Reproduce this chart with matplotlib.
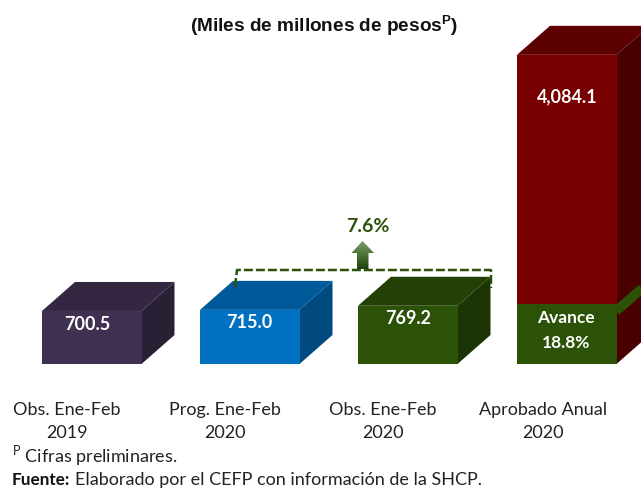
import matplotlib
matplotlib.use("Agg")
import numpy as np
import matplotlib.pyplot as plt
from matplotlib.colors import LinearSegmentedColormap
from matplotlib.patches import Polygon

plt.rcParams['font.family'] = ['Lato', 'DejaVu Sans']
plt.rcParams['mathtext.fontset'] = 'custom'
plt.rcParams['mathtext.rm'] = 'Lato'
plt.rcParams['mathtext.bf'] = 'Liberation Sans:bold'

# Data
categories = ["Obs. Ene-Feb\n2019", "Prog. Ene-Feb\n2020", "Obs. Ene-Feb\n2020", "Aprobado Anual\n2020"]
values = [700.5, 715.0, 769.2, 4084.1]
value_labels = ["700.5", "715.0", "769.2", "4,084.1"]
avance_pct = 18.8
growth_pct = 7.6

# Colours per bar: front, top, side
front_colors = ["#403152", "#0070c0", "#2c5208", "#780000"]
top_colors = ["#332742", "#005a9a", "#234106", "#5c0000"]
side_colors = ["#2a2036", "#004a80", "#1b3505", "#480000"]

W, H = 641, 489
BASE_PX = 365
PX_PER_UNIT = 0.0757
bar_left = [42, 200, 358, 517]
bar_w = 99.5
depth_x, depth_y = 33, 29

fig = plt.figure(figsize=(W / 100, H / 100), dpi=100, facecolor="white")

# value axes: x in pixels, y in the chart's units
ax = fig.add_axes([0, 0, 1, 1])
ax.set_xlim(0, W)
ax.set_ylim(-(H - BASE_PX) / PX_PER_UNIT, BASE_PX / PX_PER_UNIT)
ax.axis("off")
dy = depth_y / PX_PER_UNIT


def draw_box(x, val, front, top, side, z=2):
    ax.bar(x, val, width=bar_w, align="edge", color=front, linewidth=0, zorder=z + 1)
    ax.add_patch(Polygon([(x, val), (x + depth_x, val + dy), (x + bar_w + depth_x, val + dy), (x + bar_w, val)],
                         closed=True, fc=top, ec="none", zorder=z))
    ax.add_patch(Polygon([(x + bar_w, 0), (x + bar_w + depth_x, dy), (x + bar_w + depth_x, val + dy), (x + bar_w, val)],
                         closed=True, fc=side, ec="none", zorder=z))


for i in range(len(values)):
    draw_box(bar_left[i], values[i], front_colors[i], top_colors[i], side_colors[i])

# Avance block on the front of the big bar
avance_val = values[3] * avance_pct / 100
ax.bar(bar_left[3] - 0.5, avance_val + 26, width=bar_w + 0.5, align="edge", bottom=-3,
       color=front_colors[2], linewidth=0, zorder=4)

# overlay axes in pixel coordinates for annotations
ov = fig.add_axes([0, 0, 1, 1])
ov.patch.set_alpha(0)
ov.axis("off")

# stripe on the side of the big bar
ov.plot([616, 645], [312, 287], color=front_colors[2], lw=7, solid_capstyle="butt", zorder=3)

# dashed bracket
ov.plot([235, 237, 491, 491], [288, 271, 271, 289], color="#2c5208", lw=1.8,
        dashes=(3.6, 1.2), zorder=5)

# arrow with vertical gradient
arrow = Polygon([(362.5, 242), (374, 254), (368.5, 254), (368.5, 270), (357, 270), (357, 254), (351.5, 254)],
                closed=True, transform=ov.transData, fc="none", ec="none")
ov.add_patch(arrow)
cmap = LinearSegmentedColormap.from_list("arr", ["#7b9c6e", "#4a7436", "#1f3d0c"])
im = ov.imshow(np.linspace(0, 1, 40).reshape(-1, 1), extent=(350, 375, 271, 241), cmap=cmap,
               aspect="auto", zorder=6)
im.set_clip_path(arrow)
ov.set_xlim(0, W)
ov.set_ylim(H, 0)


def px_text(x, y, s, **kw):
    return ov.text(x, y, s, ha=kw.pop("ha", "center"), va=kw.pop("va", "center"), zorder=8, **kw)


# title
px_text(324, 26, r"(Miles de millones de pesos$^{\mathbf{P}}$)", fontsize=13.7, fontweight="bold",
        family=["Liberation Sans"], color="#111111")

# value labels
label_x = [87.5, 249, 408, 567]
label_y = [324, 323, 319, 97]
for i in range(len(values)):
    px_text(label_x[i], label_y[i], value_labels[i], fontsize=13, fontweight="bold", color="white")

px_text(566, 318, "Avance", fontsize=12.5, fontweight="bold", color="white")
px_text(566, 343, f"{avance_pct}%", fontsize=12.5, fontweight="bold", color="white")
px_text(368, 226, f"{growth_pct}%", fontsize=14, fontweight="bold", color="#2c5208")

# category labels
cat_x = [67, 225, 383, 543]
for i, c in enumerate(categories):
    first, second = c.split("\n")
    px_text(cat_x[i], 410, first, fontsize=13, color="#222222")
    px_text(cat_x[i], 433, second, fontsize=13, color="#222222")

# notes
px_text(12, 456, r"$^{\mathrm{P}}$ Cifras preliminares.", fontsize=13, ha="left", color="#222222")
px_text(12, 480, "Fuente:", fontsize=12.3, fontweight="bold", ha="left", color="#111111")
px_text(75, 480, "Elaborado por el CEFP con información de la SHCP.", fontsize=13, ha="left", color="#222222")

fig.savefig("out.png", dpi=100)
